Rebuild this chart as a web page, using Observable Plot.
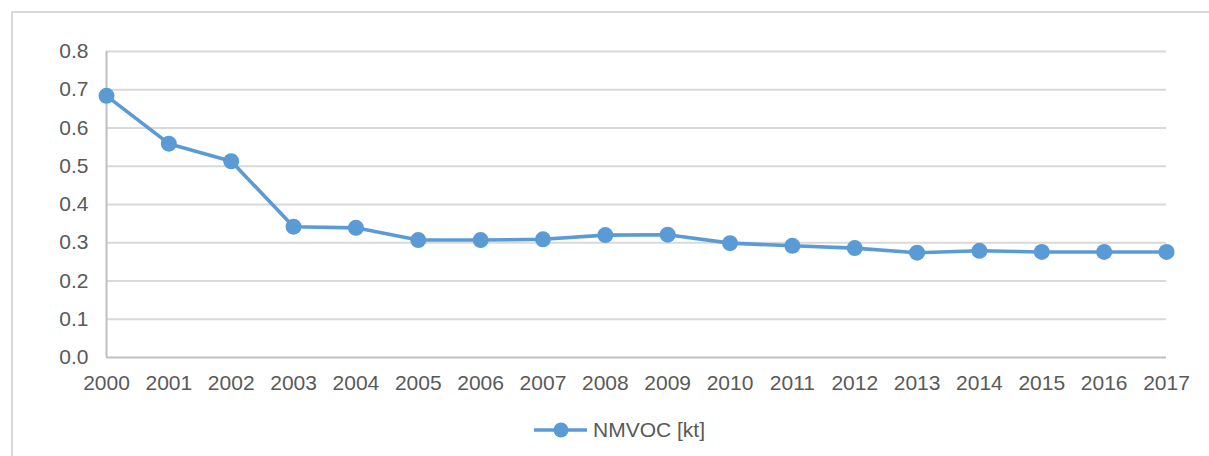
<!DOCTYPE html>
<html>
<head>
<meta charset="utf-8">
<script src="https://cdn.jsdelivr.net/npm/d3@7"></script>
<script src="https://cdn.jsdelivr.net/npm/@observablehq/plot@0.6"></script>
<style>
  html, body { margin: 0; padding: 0; background: #fff; overflow: hidden; }
  #page { position: relative; width: 1209px; height: 456px; font-family: "Liberation Sans", Arial, sans-serif; }
  #frame { position: absolute; left: 11px; top: 11px; width: 1210px; height: 460px; border-left: 2px solid #d9d9d9; border-top: 2px solid #d9d9d9; box-sizing: border-box; }
  #chart { position: absolute; left: 0; top: 0; }
  #legend { position: absolute; left: 0; top: 418px; width: 1209px; height: 28px; }
  #legend .item { position: absolute; left: 532px; top: 0; display: flex; align-items: center; color: #595959; font-size: 21px; }
  #legend svg { margin-right: 5px; }
</style>
</head>
<body>
<div id="page">
  <div id="frame"></div>
  <div id="chart"></div>
  <div id="legend"></div>
</div>
<script>
const years = [2000, 2001, 2002, 2003, 2004, 2005, 2006, 2007, 2008, 2009, 2010, 2011, 2012, 2013, 2014, 2015, 2016, 2017];
const nmvoc = [0.684, 0.559, 0.513, 0.342, 0.339, 0.307, 0.307, 0.309, 0.320, 0.321, 0.299, 0.292, 0.286, 0.274, 0.279, 0.276, 0.276, 0.276];
const yTicks = [0, 0.1, 0.2, 0.3, 0.4, 0.5, 0.6, 0.7, 0.8];
const seriesName = "NMVOC [kt]";
const lineColor = "#5B9BD5";

const data = years.map((y, i) => ({year: y, value: nmvoc[i]}));

const chart = Plot.plot({
  width: 1209,
  height: 400,
  marginLeft: 106,
  marginRight: 43,
  marginTop: 51,
  marginBottom: 43,
  style: {fontFamily: "'Liberation Sans', Arial, sans-serif", fontSize: "21px", color: "#595959", background: "transparent", overflow: "visible"},
  x: {type: "linear", domain: [2000, 2017], ticks: years, tickFormat: d => String(d), tickSize: 0, tickPadding: 18, label: null},
  y: {domain: [0, 0.8], ticks: yTicks, tickFormat: d => d.toFixed(1), tickSize: 0, tickPadding: 18, label: null},
  marks: [
    Plot.gridY(yTicks.slice(1), {stroke: "#d9d9d9", strokeOpacity: 1, strokeWidth: 2}),
    Plot.ruleX([2000], {stroke: "#bfbfbf", strokeWidth: 2}),
    Plot.ruleY([0], {stroke: "#bfbfbf", strokeWidth: 2}),
    Plot.line(data, {x: "year", y: "value", stroke: lineColor, strokeWidth: 3.6}),
    Plot.dot(data, {x: "year", y: "value", r: 8, fill: lineColor, stroke: "none"})
  ]
});
document.getElementById("chart").appendChild(chart);

const legend = document.getElementById("legend");
legend.innerHTML = `<div class="item"><svg width="56" height="20"><line x1="2" y1="10" x2="55" y2="10" stroke="${lineColor}" stroke-width="3.6"/><circle cx="29" cy="10" r="7.5" fill="${lineColor}"/></svg><span>${seriesName}</span></div>`;
</script>
</body>
</html>
